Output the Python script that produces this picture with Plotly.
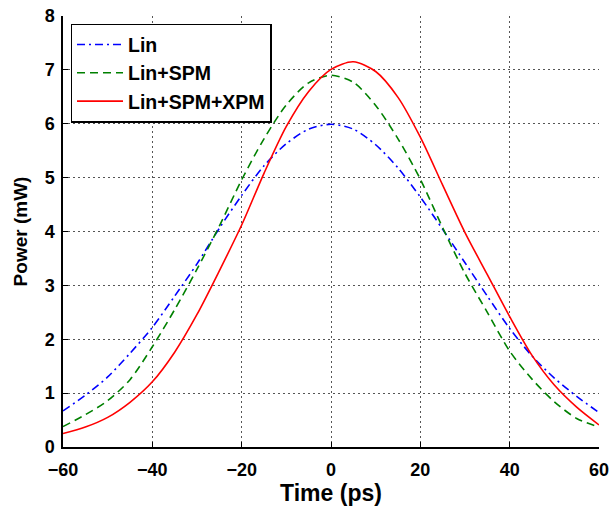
import plotly.graph_objects as go

time_ps = [-60, -55, -50, -45, -40, -35, -30, -25, -20, -15, -10, -5, 0,
           5, 10, 15, 20, 25, 30, 35, 40, 45, 50, 55, 60]
lin = [0.67, 0.96, 1.30, 1.74, 2.22, 2.80, 3.40, 4.06, 4.67, 5.22, 5.63, 5.90, 5.99,
       5.90, 5.61, 5.18, 4.64, 4.04, 3.42, 2.80, 2.20, 1.69, 1.28, 0.94, 0.64]
lin_spm = [0.38, 0.60, 0.86, 1.25, 1.86, 2.55, 3.30, 4.10, 4.96, 5.72, 6.35, 6.76, 6.90,
           6.77, 6.34, 5.72, 4.97, 4.07, 3.22, 2.50, 1.78, 1.26, 0.84, 0.53, 0.37]
lin_spm_xpm = [0.25, 0.37, 0.55, 0.83, 1.21, 1.76, 2.46, 3.27, 4.12, 5.08, 5.95, 6.60, 7.01,
               7.15, 6.97, 6.49, 5.75, 4.86, 3.98, 3.20, 2.42, 1.70, 1.15, 0.74, 0.41]

FONT = "Liberation Sans, Arial, Helvetica, sans-serif"

fig = go.Figure()
fig.add_trace(go.Scatter(x=time_ps, y=lin, mode="lines", name="Lin",
                         line=dict(color="#0000ff", width=1.6, dash="8px,4px,2px,4px",
                                   shape="spline", smoothing=0.8)))
fig.add_trace(go.Scatter(x=time_ps, y=lin_spm, mode="lines", name="Lin+SPM",
                         line=dict(color="#008000", width=1.6, dash="8px,5px",
                                   shape="spline", smoothing=0.8)))
fig.add_trace(go.Scatter(x=time_ps, y=lin_spm_xpm, mode="lines", name="Lin+SPM+XPM",
                         line=dict(color="#ff0000", width=1.6, shape="spline", smoothing=0.8)))

axis_common = dict(
    showline=True, linecolor="black", linewidth=1.5,
    ticks="inside", ticklen=5, tickcolor="black", tickwidth=1,
    showgrid=True, gridcolor="#555555", griddash="2px,3px", gridwidth=1,
    zeroline=False, automargin=False,
    tickfont=dict(family=FONT, size=18, color="black", weight="bold"),
)

fig.update_xaxes(range=[-60, 60], tickvals=[-60, -40, -20, 0, 20, 40, 60],
                 ticklabelstandoff=6,
                 title=dict(text="Time (ps)", font=dict(family=FONT, size=23, color="black", weight="bold"),
                            standoff=0),
                 **axis_common)
fig.update_yaxes(range=[0, 8], tickvals=list(range(0, 9)),
                 ticklabelstandoff=3,
                 title=dict(text="Power (mW)", font=dict(family=FONT, size=19, color="black", weight="bold"),
                            standoff=12),
                 **axis_common)

fig.update_layout(
    width=612, height=508,
    margin=dict(l=63, r=13, t=16, b=61),
    paper_bgcolor="white", plot_bgcolor="white",
    showlegend=True,
    legend=dict(x=0.014, y=0.982, xanchor="left", yanchor="top",
                bgcolor="white", bordercolor="black", borderwidth=1.5,
                font=dict(family=FONT, size=19.5, color="black", weight="bold"),
                tracegroupgap=0, itemwidth=46),
)

fig.write_html("out.html")
